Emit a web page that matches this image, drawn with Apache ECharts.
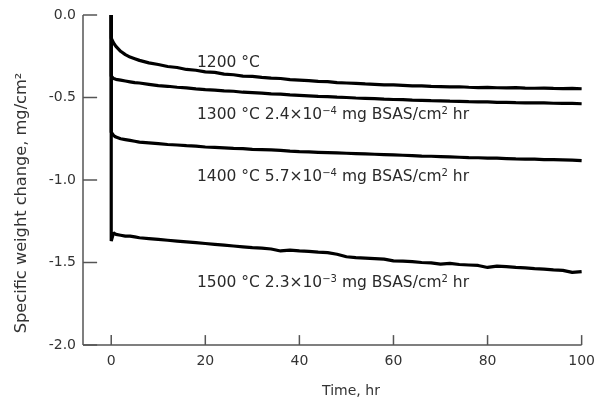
<!DOCTYPE html>
<html>
<head>
<meta charset="utf-8">
<script src="https://cdn.jsdelivr.net/npm/echarts@6/dist/echarts.min.js"></script>
<style>
  html, body { margin: 0; padding: 0; background: #fff; }
  #chart { width: 598px; height: 402px; }
</style>
</head>
<body>
<div id="chart"></div>
<script>
// time points (hr); first two points draw the vertical drop at t = 0
const hours = [0, 0, 0.5, 1, 2, 3, 4, 5, 6,
  8, 10, 12, 14, 16, 18, 20, 22, 24, 26, 28, 30, 32, 34, 36, 38, 40, 42, 44, 46, 48, 50,
  52, 54, 56, 58, 60, 62, 64, 66, 68, 70, 72, 74, 76, 78, 80, 82, 84, 86, 88, 90, 92, 94, 96, 98, 100];

const w1200 = [0, -0.14, -0.17, -0.19, -0.22, -0.24, -0.255, -0.265, -0.275,
  -0.29, -0.30, -0.312, -0.318, -0.33, -0.335, -0.345, -0.348, -0.358, -0.362, -0.37, -0.372,
  -0.378, -0.383, -0.385, -0.392, -0.395, -0.398, -0.402, -0.404, -0.41, -0.412,
  -0.414, -0.418, -0.42, -0.423, -0.424, -0.427, -0.43, -0.429, -0.433, -0.434,
  -0.436, -0.435, -0.438, -0.44, -0.439, -0.441, -0.442, -0.44, -0.443, -0.444,
  -0.443, -0.445, -0.446, -0.445, -0.447];

const w1300 = [0, -0.37, -0.385, -0.39, -0.395, -0.40, -0.405, -0.41, -0.412,
  -0.42, -0.428, -0.432, -0.438, -0.442, -0.448, -0.452, -0.455, -0.46, -0.462, -0.468, -0.47,
  -0.474, -0.478, -0.48, -0.484, -0.487, -0.49, -0.493, -0.495, -0.498, -0.5,
  -0.503, -0.505, -0.507, -0.51, -0.512, -0.513, -0.516, -0.517, -0.519, -0.52,
  -0.522, -0.523, -0.525, -0.526, -0.527, -0.529, -0.529, -0.531, -0.532, -0.533,
  -0.533, -0.535, -0.536, -0.536, -0.538];

const w1400 = [0, -0.71, -0.73, -0.74, -0.75, -0.755, -0.76, -0.765, -0.77,
  -0.775, -0.78, -0.785, -0.788, -0.792, -0.795, -0.80, -0.802, -0.805, -0.808, -0.81, -0.814,
  -0.816, -0.818, -0.82, -0.825, -0.828, -0.83, -0.832, -0.834, -0.836, -0.838,
  -0.84, -0.842, -0.844, -0.846, -0.848, -0.85, -0.852, -0.855, -0.856, -0.858,
  -0.86, -0.862, -0.864, -0.865, -0.867, -0.868, -0.87, -0.872, -0.873, -0.874,
  -0.876, -0.877, -0.878, -0.879, -0.882];

const w1500 = [0, -1.37, -1.32, -1.33, -1.335, -1.34, -1.34, -1.345, -1.35,
  -1.355, -1.36, -1.365, -1.37, -1.375, -1.38, -1.385, -1.39, -1.395, -1.40, -1.405, -1.41,
  -1.413, -1.418, -1.43, -1.425, -1.43, -1.433, -1.437, -1.44, -1.45, -1.465,
  -1.47, -1.473, -1.476, -1.48, -1.49, -1.492, -1.495, -1.50, -1.502, -1.51,
  -1.505, -1.512, -1.515, -1.518, -1.53, -1.522, -1.525, -1.53, -1.533, -1.537,
  -1.54, -1.545, -1.548, -1.56, -1.555];

const xTicks = [0, 20, 40, 60, 80, 100];
const yTicks = [0, -0.5, -1.0, -1.5, -2.0];

const font = "'DejaVu Sans', sans-serif";
const axisColor = "#555";
const xMin = -6, xMax = 100, yMin = -2, yMax = 0;
const pair = (vals) => hours.map((h, i) => [h, vals[i]]);

const chart = echarts.init(document.getElementById("chart"));

// axis frame (left + bottom) and inward ticks as plain segments in data space
const frame = [
  [[xMin, yMin], [xMax, yMin]],
  [[xMin, yMin], [xMin, yMax]],
  ...xTicks.map((t) => [[t, yMin], [t, yMin + 0.06]]),
  ...yTicks.map((v) => [[xMin, v], [xMin + 3, v]]),
];

function frameSeries(seg) {
  return {
    type: "line",
    data: seg,
    showSymbol: false,
    clip: false,
    silent: true,
    animation: false,
    z: 1,
    lineStyle: { color: axisColor, width: 1.5 },
  };
}

function line(name, vals) {
  return {
    name,
    type: "line",
    data: pair(vals),
    showSymbol: false,
    clip: false,
    z: 3,
    lineStyle: { color: "#000", width: 3.2 },
    silent: true,
    animation: false,
  };
}

function label(y, temp, rate, exp) {
  const rich = {
    a: { fontSize: 15.5, fontFamily: font, fill: "#2a2a2a", lineHeight: 18 },
    s: { fontSize: 10, fontFamily: font, fill: "#2a2a2a", verticalAlign: "top", lineHeight: 18 },
  };
  const text = rate
    ? `{a|${temp} °C ${rate}×10}{s|−${exp}}{a| mg BSAS/cm}{s|2}{a| hr}`
    : `{a|${temp} °C}`;
  return {
    type: "text",
    x: 197,
    y,
    style: { text, rich, verticalAlign: "middle" },
  };
}

chart.setOption({
  animation: false,
  grid: { left: 83, top: 15, right: 11, bottom: 57 },
  xAxis: {
    type: "value",
    min: xMin,
    max: xMax,
    splitLine: { show: false },
    axisLine: { show: false },
    axisTick: { show: false },
    axisLabel: { customValues: xTicks, margin: 9, fontSize: 14, fontFamily: font, color: "#333" },
  },
  yAxis: {
    type: "value",
    min: yMin,
    max: yMax,
    interval: 0.5,
    splitLine: { show: false },
    axisLine: { show: false },
    axisTick: { show: false },
    axisLabel: {
      margin: 7,
      fontSize: 14,
      fontFamily: font,
      color: "#333",
      formatter: (v) => v.toFixed(1),
    },
  },
  graphic: [
    label(63, "1200"),
    label(115, "1300", "2.4", 4),
    label(177, "1400", "5.7", 4),
    label(283, "1500", "2.3", 3),
    {
      type: "text",
      x: 351,
      y: 391,
      style: { text: "Time, hr", fontSize: 14, fontFamily: font, fill: "#333", align: "center", verticalAlign: "middle" },
    },
    {
      type: "text",
      x: 22,
      y: 203,
      rotation: Math.PI / 2,
      scaleX: 1.08,
      style: { text: "Specific weight change, mg/cm²", fontSize: 15, fontFamily: font, fill: "#333", align: "center", verticalAlign: "middle" },
    },
  ],
  series: [
    ...frame.map(frameSeries),
    line("1200", w1200),
    line("1300", w1300),
    line("1400", w1400),
    line("1500", w1500),
  ],
});
</script>
</body>
</html>
